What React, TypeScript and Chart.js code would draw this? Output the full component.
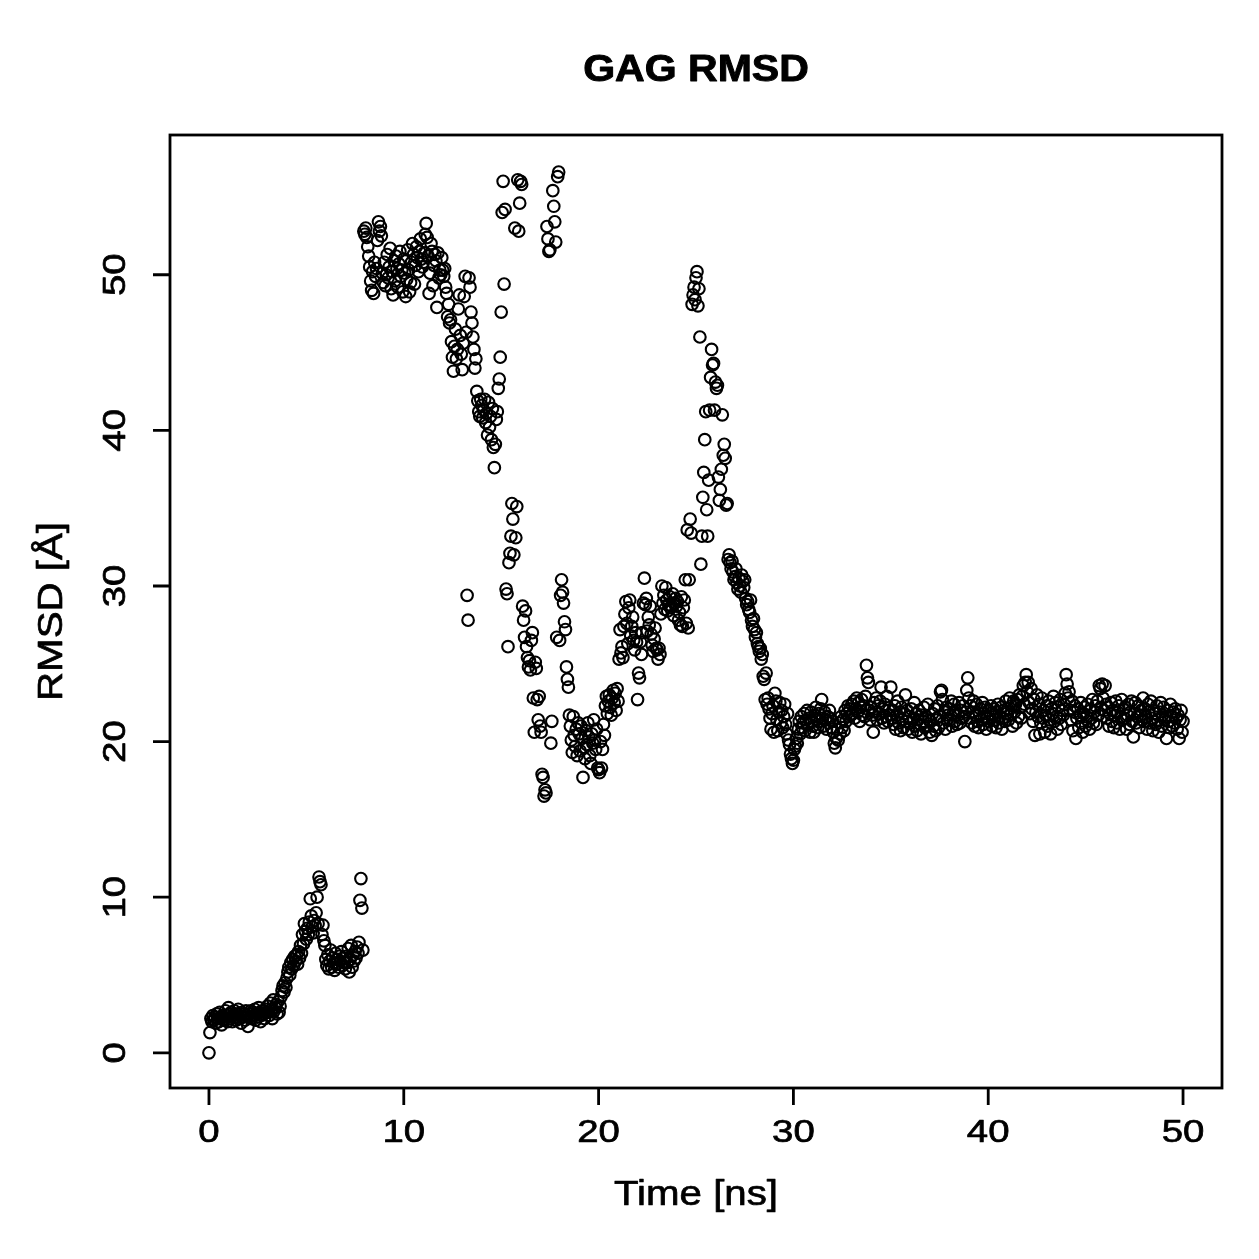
import React, { useEffect, useRef } from "react";
import { Chart, registerables } from "chart.js";

Chart.register(...registerables);

// RMSD of the GAG chain, one frame every 0.05 ns, in Å
const TIME_STEP_NS = 0.05;

const rmsd0to10 = [
  // 0 - 1 ns
  0.0, 1.3, 2.2, 2.0, 2.4, 2.1, 2.3, 1.9, 2.5, 2.2, 2.0, 2.6, 2.3, 1.8, 2.4, 2.1, 2.2, 2.7, 2.4, 2.0,
  // 1 - 2 ns
  2.9, 2.5, 2.2, 2.6, 2.0, 2.4, 2.7, 2.3, 2.1, 2.5, 2.8, 2.2, 2.4, 1.9, 2.6, 2.3, 2.5, 2.1, 2.7, 2.4,
  // 2 - 3 ns
  1.7, 2.5, 2.3, 2.7, 2.2, 2.6, 2.4, 2.8, 2.1, 2.5, 2.3, 2.9, 2.6, 2.0, 2.4, 2.7, 2.5, 2.2, 2.8, 2.6,
  // 3 - 4 ns
  3.0, 2.6, 2.4, 3.2, 2.8, 2.2, 3.4, 2.7, 2.9, 3.1, 2.5, 3.3, 2.6, 3.0, 3.6, 4.0, 4.3, 3.9, 4.5, 4.2,
  // 4 - 5 ns
  4.8, 5.2, 5.5, 5.0, 5.8, 5.4, 6.0, 5.6, 6.2, 5.9, 6.3, 5.7, 6.5, 6.1, 6.9, 6.4, 7.6, 7.0, 8.3, 7.8,
  // 5 - 6 ns
  7.3, 8.0, 7.6, 8.4, 9.9, 8.8, 8.1, 7.7, 8.5, 8.2, 9.0, 10.0, 8.3, 11.3, 11.0, 10.8, 7.6, 8.2, 7.2, 6.9,
  // 6 - 7 ns
  6.0, 5.6, 6.3, 5.4, 5.9, 6.6, 5.5, 6.1, 5.8, 5.3, 6.4, 5.7, 6.0, 5.5, 6.2, 5.9, 6.5, 5.6, 6.1, 5.8,
  // 7 - 8 ns
  5.4, 6.2, 5.8, 6.7, 5.2, 6.0, 6.9, 5.5, 6.3, 5.9, 6.5, 6.1, 6.8, 6.4, 7.1, 9.8, 11.2, 9.3, 6.6, 52.8,
  // 8 - 9 ns
  52.6, 53.0, 52.4, 51.8, 51.2, 50.5, 49.6, 49.0, 50.2, 48.8, 50.8, 49.9, 50.4, 52.2, 53.4, 52.8, 53.1, 52.5, 50.1, 49.5,
  // 9 - 10 ns
  50.8, 49.3, 50.0, 51.3, 49.8, 50.5, 51.7, 49.1, 50.2, 48.7, 50.9, 49.6, 51.2, 50.4, 49.2, 50.7, 51.5, 49.9, 50.3, 48.9,
];

const rmsd10to20 = [
  51.0, 50.1, 48.6, 49.7, 51.6, 50.3, 48.9, 49.5, 50.8, 52.0, 51.3, 49.4, 50.6, 51.8, 51.1, 50.2, 51.5, 52.3, 51.0, 50.5,
  50.8, 51.4, 52.6, 53.3, 52.4, 51.2, 48.8, 50.1, 52.0, 51.5, 49.3, 50.6, 51.3, 50.9, 47.9, 51.4, 49.8, 50.3, 50.0, 51.1,
  50.3, 49.9, 50.4, 49.2, 48.8, 47.3, 48.1, 46.9, 47.1, 45.7, 44.7, 43.8, 45.4, 46.5, 44.6, 45.2, 47.8, 48.7, 46.1, 44.9,
  43.9, 45.6, 48.6, 49.9, 46.3, 29.4, 27.8, 49.8, 49.2, 47.6, 46.9, 46.0, 45.2, 44.0, 44.6, 42.5, 41.9, 41.2, 40.9, 42.0,
  41.6, 40.8, 41.3, 42.0, 40.5, 41.1, 39.7, 41.8, 40.2, 40.9, 39.4, 41.4, 38.9, 37.6, 39.1, 40.7, 41.2, 42.7, 43.3, 44.7,
  47.6, 54.0, 56.0, 49.4, 54.2, 29.8, 29.5, 26.1, 31.5, 32.1, 33.2, 35.3, 34.3, 32.0, 53.0, 33.1, 35.1, 56.1, 52.8, 54.6,
  56.0, 55.8, 28.7, 27.8, 26.7, 28.4, 26.1, 25.4, 24.8, 25.2, 24.6, 26.5, 27.0, 22.8, 20.6, 25.1, 24.7, 22.7, 21.4, 22.9,
  21.0, 20.6, 17.9, 17.7, 16.5, 16.9, 16.7, 53.1, 52.3, 51.5, 51.6, 19.9, 21.3, 55.4, 54.4, 53.4, 52.1, 26.7, 56.3, 56.6,
  26.5, 29.4, 30.4, 29.6, 28.9, 27.7, 27.2, 24.8, 24.0, 23.5, 21.7, 21.0, 20.1, 19.3, 21.6, 20.4, 19.7, 20.8, 19.1, 21.2,
  20.5, 19.4, 21.0, 20.2, 17.7, 19.6, 18.9, 20.7, 19.8, 21.2, 20.3, 19.1, 18.6, 20.5, 19.9, 21.4, 20.1, 19.5, 20.8, 18.3,
];

const rmsd20to30 = [
  18.2, 18.0, 20.0, 18.3, 19.5, 21.1, 20.4, 22.3, 22.9, 21.8, 22.6, 23.0, 22.2, 21.7, 22.8, 23.3, 22.5, 23.1, 22.0, 23.4,
  22.6, 25.3, 27.2, 25.7, 26.1, 25.4, 27.4, 28.2, 29.0, 27.6, 26.3, 28.6, 29.1, 26.8, 27.4, 28.0, 26.5, 25.9, 27.0, 26.4,
  22.7, 24.4, 24.1, 26.4, 25.6, 27.0, 28.9, 30.5, 28.8, 29.2, 27.1, 28.0, 27.5, 28.7, 26.9, 26.2, 25.8, 26.6, 27.3, 26.0,
  25.9, 25.3, 26.0, 25.6, 28.2, 30.0, 28.9, 29.4, 28.5, 29.9, 29.1, 28.4, 28.8, 29.3, 28.6, 28.7, 29.5, 28.1, 28.9, 29.2,
  28.7, 29.0, 27.8, 28.3, 27.5, 29.3, 27.4, 28.6, 29.1, 30.4, 27.6, 33.6, 27.3, 30.4, 34.3, 33.4, 48.1, 48.7, 49.2, 48.4,
  49.8, 50.2, 48.0, 49.1, 46.0, 31.4, 33.2, 35.7, 37.3, 39.4, 41.2, 34.9, 33.2, 36.8, 41.3, 43.4, 45.2, 44.2, 44.3, 41.3,
  43.1, 42.7, 42.9, 37.0, 35.5, 36.2, 37.5, 41.0, 38.4, 39.1, 38.2, 35.2, 35.3, 31.7, 32.0, 31.5, 31.1, 31.6, 30.9, 30.4,
  30.6, 31.1, 30.2, 29.8, 30.5, 30.0, 29.6, 30.7, 30.3, 29.9, 30.4, 29.2, 28.8, 29.0, 28.5, 28.3, 29.1, 27.8, 27.4, 27.9,
  27.2, 26.7, 27.0, 26.3, 26.1, 25.8, 26.0, 25.3, 25.6, 24.2, 24.0, 22.7, 24.4, 22.4, 22.8, 22.1, 21.5, 20.8, 21.8, 22.3,
  20.6, 23.1, 22.6, 21.4, 20.7, 21.9, 22.5, 21.2, 22.0, 20.9, 21.6, 22.4, 21.1, 20.5, 21.8, 20.1, 19.8, 19.2, 18.9, 18.6,
];

const rmsd30to40 = [
  18.8, 19.5, 19.7, 20.2, 19.9, 20.8, 21.3, 20.5, 21.6, 20.9, 21.2, 21.8, 20.7, 21.4, 22.0, 21.1, 21.5, 20.6, 21.9, 21.3,
  21.0, 20.6, 21.7, 22.2, 21.4, 20.9, 21.8, 21.3, 22.1, 22.7, 21.5, 21.0, 21.9, 21.4, 20.8, 21.6, 21.2, 22.0, 21.5, 20.9,
  21.3, 20.6, 19.9, 19.6, 20.2, 20.8, 20.1, 21.2, 20.5, 21.6, 20.9, 21.4, 20.7, 22.0, 21.3, 21.8, 22.3, 21.6, 22.1, 21.7,
  22.4, 21.8, 22.6, 21.5, 22.1, 22.8, 21.9, 22.5, 21.3, 22.2, 22.7, 21.7, 22.3, 21.6, 22.9, 24.9, 24.1, 23.8, 22.0, 21.4,
  22.2, 21.7, 20.6, 22.5, 21.9, 22.8, 21.4, 22.3, 21.8, 22.6, 23.5, 21.5, 22.1, 21.2, 22.4, 21.6, 22.9, 21.3, 22.0, 21.7,
  23.5, 21.5, 22.0, 21.1, 22.3, 20.8, 21.7, 22.6, 21.2, 21.9, 20.7, 22.2, 21.4, 20.9, 21.8, 23.0, 21.3, 22.0, 20.8, 21.6,
  21.2, 22.1, 20.6, 21.5, 22.5, 21.0, 21.8, 20.7, 21.4, 22.0, 21.1, 20.5, 21.7, 21.3, 22.2, 20.9, 21.6, 21.0, 22.4, 21.4,
  20.6, 21.3, 20.4, 21.8, 21.0, 22.1, 20.7, 21.5, 22.3, 20.9, 21.6, 23.2, 23.3, 22.7, 21.2, 21.9, 20.8, 22.2, 21.4, 21.7,
  22.1, 21.4, 22.6, 21.0, 21.8, 22.4, 21.3, 22.0, 21.1, 21.7, 22.5, 21.2, 22.0, 21.5, 22.3, 21.6, 20.0, 21.9, 23.3, 24.1,
  22.8, 21.5, 22.3, 21.2, 21.9, 22.6, 21.0, 21.7, 22.4, 21.3, 20.9, 21.8, 22.1, 21.4, 22.5, 21.1, 21.6, 22.2, 20.8, 21.5,
];

const rmsd40to50 = [
  22.0, 21.3, 21.8, 22.3, 21.0, 21.7, 22.1, 21.4, 20.9, 21.9, 22.4, 21.2, 21.6, 22.2, 20.8, 21.5, 22.0, 21.3, 22.6, 21.8,
  22.1, 21.4, 22.8, 21.7, 22.3, 21.0, 22.6, 21.9, 22.4, 21.2, 22.7, 21.6, 23.0, 22.2, 21.5, 22.9, 23.6, 22.4, 23.8, 24.3,
  23.2, 23.8, 22.5, 21.8, 23.4, 22.1, 21.3, 22.7, 20.4, 21.9, 23.0, 21.6, 22.4, 20.5, 21.2, 22.8, 21.5, 22.0, 20.6, 21.7,
  22.3, 21.0, 22.6, 21.4, 20.5, 22.1, 21.8, 22.9, 21.3, 22.5, 21.6, 20.8, 22.2, 21.5, 22.7, 21.1, 22.0, 21.7, 22.4, 23.1,
  24.3, 23.7, 22.8, 23.2, 22.0, 21.4, 22.6, 20.7, 21.9, 22.3, 20.2, 21.5, 22.1, 20.9, 21.7, 22.5, 21.2, 20.6, 21.8, 22.2,
  21.0, 21.6, 22.4, 21.3, 20.8, 22.0, 21.5, 22.7, 21.2, 21.9, 22.3, 21.1, 22.6, 21.7, 23.6, 23.4, 22.1, 23.7, 22.8, 22.0,
  23.6, 22.4, 21.5, 22.2, 21.0, 21.8, 22.5, 21.3, 22.0, 20.9, 21.7, 22.6, 21.2, 21.9, 22.3, 20.8, 21.6, 22.7, 21.4, 22.1,
  21.5, 22.2, 20.8, 21.7, 22.4, 21.1, 21.9, 22.6, 21.3, 20.3, 21.8, 22.5, 21.2, 21.6, 22.3, 20.9, 21.7, 22.0, 21.4, 22.8,
  21.3, 22.1, 21.6, 20.8, 22.4, 21.9, 21.2, 22.6, 21.5, 20.7, 22.0, 21.8, 21.1, 22.3, 21.4, 20.6, 21.9, 22.5, 21.0, 21.7,
  22.2, 21.4, 21.6, 20.2, 22.0, 21.3, 20.9, 22.4, 21.6, 21.0, 21.9, 21.2, 22.1, 21.5, 20.8, 21.7, 20.2, 21.4, 22.0, 20.6,
  // 50 ns
  21.3,
];

const xTicks = [0, 10, 20, 30, 40, 50];
const yTicks = [0, 10, 20, 30, 40, 50];

const TITLE = "GAG RMSD";
const X_TITLE = "Time [ns]";
const Y_TITLE = "RMSD [Å]";

const rmsd = [...rmsd0to10, ...rmsd10to20, ...rmsd20to30, ...rmsd30to40, ...rmsd40to50];
const points = rmsd.map((v, i) => ({ x: +(i * TIME_STEP_NS).toFixed(2), y: v }));

const W = 1259;
const H = 1259;
const FONT = '"Liberation Sans", Arimo, Arial, Helvetica, sans-serif';

function drawText(
  ctx: CanvasRenderingContext2D,
  text: string,
  x: number,
  y: number,
  size: number,
  bold: boolean,
  rotation: number,
  stretch: number
) {
  ctx.save();
  ctx.translate(x, y);
  ctx.rotate(rotation);
  ctx.scale(stretch, 1);
  ctx.font = `${bold ? "bold " : ""}${size}px ${FONT}`;
  ctx.fillStyle = "#000";
  ctx.strokeStyle = "#000";
  ctx.lineWidth = bold ? 0.9 : 0.7;
  ctx.lineJoin = "round";
  ctx.textAlign = "center";
  ctx.textBaseline = "alphabetic";
  ctx.fillText(text, 0, 0);
  ctx.strokeText(text, 0, 0);
  ctx.restore();
}

// Box, ticks and labels drawn in the style of an R base-graphics plot
const baseGraphicsFrame = {
  id: "baseGraphicsFrame",
  afterDraw(chart: any) {
    const { ctx, chartArea, scales } = chart;
    const xs = scales.x;
    const ys = scales.y;
    ctx.save();
    ctx.strokeStyle = "#000";
    ctx.lineWidth = 2.8;
    ctx.lineCap = "butt";
    ctx.strokeRect(chartArea.left, chartArea.top, chartArea.right - chartArea.left, chartArea.bottom - chartArea.top);

    const tickLen = 17;
    ctx.beginPath();
    for (const t of xTicks) {
      const px = xs.getPixelForValue(t);
      ctx.moveTo(px, chartArea.bottom);
      ctx.lineTo(px, chartArea.bottom + tickLen);
    }
    for (const t of yTicks) {
      const py = ys.getPixelForValue(t);
      ctx.moveTo(chartArea.left, py);
      ctx.lineTo(chartArea.left - tickLen, py);
    }
    ctx.stroke();
    ctx.restore();

    for (const t of xTicks) {
      drawText(ctx, String(t), xs.getPixelForValue(t), chartArea.bottom + 54, 32, false, 0, 1.2);
    }
    for (const t of yTicks) {
      drawText(ctx, String(t), chartArea.left - 45, ys.getPixelForValue(t), 32, false, -Math.PI / 2, 1.2);
    }
    const cx = (chartArea.left + chartArea.right) / 2;
    const cy = (chartArea.top + chartArea.bottom) / 2;
    drawText(ctx, X_TITLE, cx, 1205, 35, false, 0, 1.15);
    drawText(ctx, Y_TITLE, 62, cy, 35, false, -Math.PI / 2, 1.15);
    drawText(ctx, TITLE, cx, 81, 36, true, 0, 1.14);
  },
};

export default function App() {
  const canvasRef = useRef<HTMLCanvasElement | null>(null);

  useEffect(() => {
    const canvas = canvasRef.current;
    if (!canvas) return;
    const chart = new Chart(canvas, {
      type: "scatter",
      data: {
        datasets: [
          {
            label: "GAG RMSD",
            data: points,
            showLine: false,
            pointStyle: "circle",
            pointRadius: 5.8,
            pointHoverRadius: 5.8,
            pointBorderWidth: 2.1,
            pointBorderColor: "#000",
            pointBackgroundColor: "rgba(0,0,0,0)",
          },
        ],
      },
      options: {
        responsive: false,
        animation: false,
        devicePixelRatio: 1,
        layout: { padding: { left: 170, top: 135, right: W - 1222, bottom: H - 1088 } },
        plugins: {
          legend: { display: false },
          tooltip: { enabled: false },
          title: { display: false },
        },
        events: [],
        scales: {
          x: { type: "linear", min: -2, max: 52, display: false },
          y: { type: "linear", min: -2.26, max: 58.98, display: false },
        },
      },
      plugins: [baseGraphicsFrame],
    });
    return () => chart.destroy();
  }, []);

  return (
    <div style={{ position: "absolute", left: 0, top: 0, width: W, height: H, background: "#fff" }}>
      <canvas ref={canvasRef} width={W} height={H} style={{ display: "block" }} />
    </div>
  );
}
